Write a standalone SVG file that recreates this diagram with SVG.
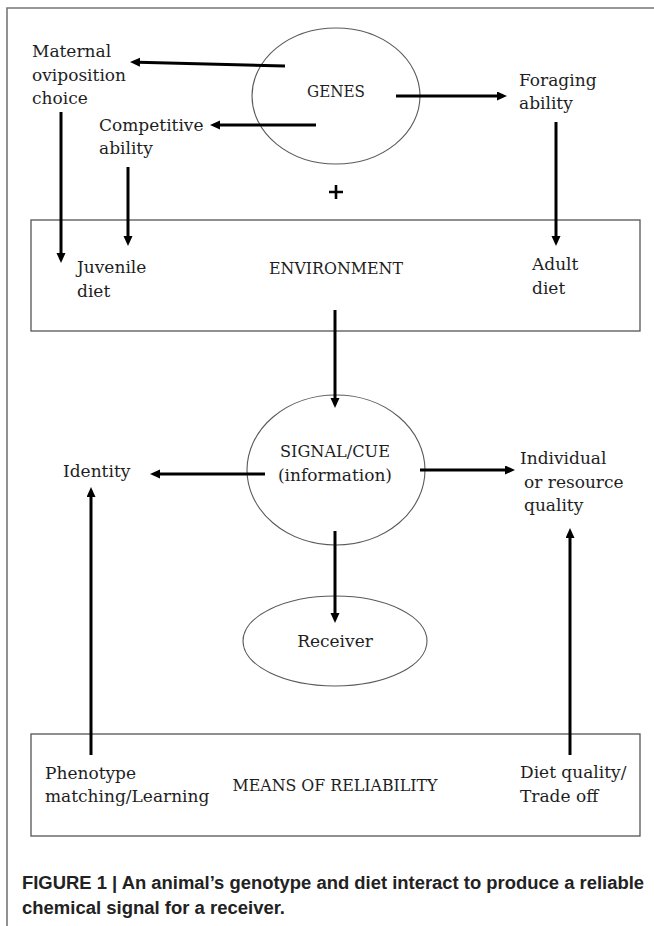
<svg xmlns="http://www.w3.org/2000/svg" width="654" height="926" viewBox="0 0 654 926">
  <style>
    .lbl { font-family: "DejaVu Serif", "Liberation Serif", serif; font-size: 17px; fill: #1e1e1e; }
    .mid { text-anchor: middle; }
    .node { fill: none; stroke: #5a5a5a; stroke-width: 1.1; }
    .box { fill: none; stroke: #555; stroke-width: 1.3; }
    .arrow { fill: none; stroke: #000; stroke-width: 3; marker-end: url(#head); }
    .frame { stroke: #777; stroke-width: 1.6; fill: none; }
    .cap { font-family: "Liberation Sans", Arial, sans-serif; font-size: 18px; font-weight: bold; fill: #222; }
  </style>
  <defs>
    <marker id="head" markerUnits="userSpaceOnUse" markerWidth="11" markerHeight="10" refX="2" refY="4.5" orient="auto">
      <path d="M0,0 L10,4.5 L0,9 z" fill="#000"/>
    </marker>
  </defs>
  <rect width="654" height="926" fill="#fff"/>
  <path class="frame" d="M654,8 H7 V926"/>

  <g id="genes">
    <ellipse class="node" cx="336" cy="96" rx="84" ry="68"/>
    <text class="lbl mid" x="336" y="97" textLength="58" lengthAdjust="spacingAndGlyphs">GENES</text>
  </g>
  <g id="maternal">
    <text class="lbl" x="32" y="57">Maternal</text>
    <text class="lbl" x="32" y="81">oviposition</text>
    <text class="lbl" x="32" y="104">choice</text>
  </g>
  <g id="competitive">
    <text class="lbl" x="99" y="131">Competitive</text>
    <text class="lbl" x="99" y="154">ability</text>
  </g>
  <g id="foraging">
    <text class="lbl" x="519" y="86">Foraging</text>
    <text class="lbl" x="519" y="109">ability</text>
  </g>
  <g id="plus">
    <path d="M336,185 V199 M329,192 H343" stroke="#000" stroke-width="2.6"/>
  </g>
  <g id="environment">
    <rect class="box" x="31" y="220" width="609" height="111"/>
    <text class="lbl" x="77" y="273">Juvenile</text>
    <text class="lbl" x="77" y="297">diet</text>
    <text class="lbl mid" x="336" y="274" textLength="134" lengthAdjust="spacingAndGlyphs">ENVIRONMENT</text>
    <text class="lbl" x="532" y="270">Adult</text>
    <text class="lbl" x="532" y="294">diet</text>
  </g>
  <g id="signal">
    <ellipse class="node" cx="336" cy="470" rx="89" ry="75"/>
    <text class="lbl mid" x="335" y="457" textLength="110" lengthAdjust="spacingAndGlyphs">SIGNAL/CUE</text>
    <text class="lbl mid" x="335" y="481">(information)</text>
  </g>
  <g id="identity">
    <text class="lbl" x="63" y="477">Identity</text>
  </g>
  <g id="quality">
    <text class="lbl" x="520" y="464">Individual</text>
    <text class="lbl" x="524" y="488">or resource</text>
    <text class="lbl" x="524" y="511">quality</text>
  </g>
  <g id="receiver">
    <ellipse class="node" cx="335" cy="641" rx="92" ry="45"/>
    <text class="lbl mid" x="335" y="647">Receiver</text>
  </g>
  <g id="means">
    <rect class="box" x="31" y="734" width="609" height="102"/>
    <text class="lbl" x="45" y="779">Phenotype</text>
    <text class="lbl" x="45" y="802">matching/Learning</text>
    <text class="lbl mid" x="335" y="791" textLength="205" lengthAdjust="spacingAndGlyphs">MEANS OF RELIABILITY</text>
    <text class="lbl" x="520" y="778">Diet quality/</text>
    <text class="lbl" x="520" y="802">Trade off</text>
  </g>

  <g id="connectors">
    <path class="arrow" d="M285,66 L138,62.2"/>
    <path class="arrow" d="M316,125 L218,125"/>
    <path class="arrow" d="M396,96 L499,96"/>
    <path class="arrow" d="M61,112 V255"/>
    <path class="arrow" d="M128,167 V238"/>
    <path class="arrow" d="M556,122 V238"/>
    <path class="arrow" d="M335,310 V400"/>
    <path class="arrow" d="M265,474 H158"/>
    <path class="arrow" d="M420,470 H507"/>
    <path class="arrow" d="M335,531 V615"/>
    <path class="arrow" d="M91,755 V495"/>
    <path class="arrow" d="M570,755 V536"/>
  </g>

  <g id="caption">
    <text class="cap" x="22" y="889" textLength="622" lengthAdjust="spacingAndGlyphs">FIGURE 1 | An animal’s genotype and diet interact to produce a reliable</text>
    <text class="cap" x="22" y="914" textLength="263" lengthAdjust="spacingAndGlyphs">chemical signal for a receiver.</text>
  </g>
</svg>
